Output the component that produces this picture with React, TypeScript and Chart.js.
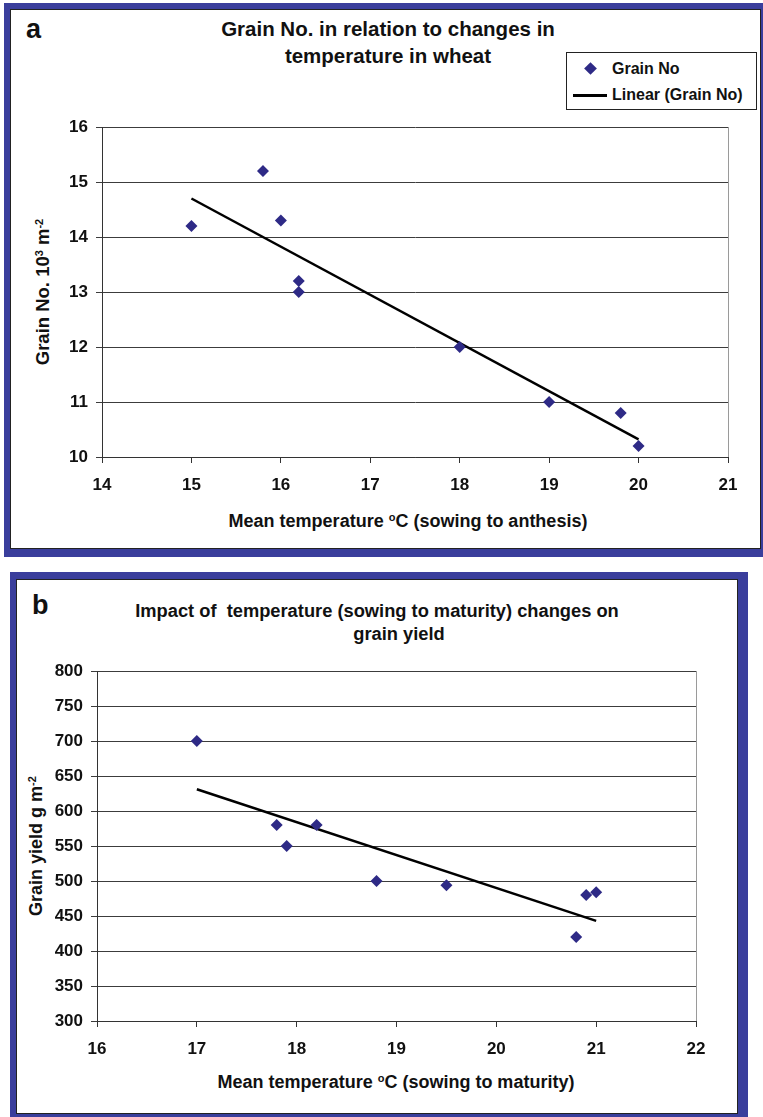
import React, { useEffect, useRef } from "react";
import { Chart, registerables } from "chart.js";

Chart.register(...registerables);

// ---------- Panel a data ----------
const tempAnthesis = [15, 15.8, 16, 16.2, 16.2, 18, 19, 19.8, 20];
const grainNo = [14.2, 15.2, 14.3, 13.2, 13.0, 12, 11, 10.8, 10.2];
const trendAX = [15, 20];
const trendAY = [14.7, 10.32];
const xRangeA = [14, 21];
const yRangeA = [10, 16];

// ---------- Panel b data ----------
const tempMaturity = [17, 17.8, 17.9, 18.2, 18.8, 19.5, 20.8, 20.9, 21];
const grainYield = [700, 580, 550, 580, 500, 494, 420, 480, 484];
const trendBX = [17, 21];
const trendBY = [631, 443];
const xRangeB = [16, 22];
const yRangeB = [300, 800];

const FONT = '"Liberation Sans", Arial, Helvetica, sans-serif';
const BLUE = "#3a3e9c";
const MARKER = "#2e2a86";

const plotFrame = {
  id: "plotFrame",
  afterDraw(chart: any) {
    const { ctx, chartArea } = chart;
    ctx.save();
    ctx.strokeStyle = "#9a9a9a";
    ctx.lineWidth = 1;
    const x = Math.round(chartArea.right) + 0.5;
    ctx.beginPath();
    ctx.moveTo(x, chartArea.top);
    ctx.lineTo(x, chartArea.bottom);
    ctx.stroke();
    ctx.restore();
  },
};

type Cfg = {
  xs: number[];
  ys: number[];
  tx: number[];
  ty: number[];
  xr: number[];
  yr: number[];
  xStep: number;
  yStep: number;
  padTop: number;
  padRight: number;
  yAxisWidth: number;
  xAxisHeight: number;
};

function makeConfig(c: Cfg): any {
  const tickFont = { family: FONT, size: 17, weight: "bold" as const };
  return {
    type: "scatter",
    data: {
      datasets: [
        {
          label: "Grain No",
          data: c.xs.map((x, i) => ({ x, y: c.ys[i] })),
          pointStyle: "rectRot",
          pointRadius: 6,
          pointHoverRadius: 6,
          backgroundColor: MARKER,
          borderColor: MARKER,
          borderWidth: 0,
          showLine: false,
        },
        {
          label: "Linear (Grain No)",
          data: c.tx.map((x, i) => ({ x, y: c.ty[i] })),
          showLine: true,
          borderColor: "#000",
          borderWidth: 2.5,
          pointRadius: 0,
          fill: false,
        },
      ],
    },
    options: {
      animation: false,
      responsive: false,
      maintainAspectRatio: false,
      layout: { padding: { top: c.padTop, right: c.padRight, bottom: 0, left: 0 } },
      plugins: { legend: { display: false }, tooltip: { enabled: false }, title: { display: false } },
      scales: {
        x: {
          type: "linear",
          min: c.xr[0],
          max: c.xr[1],
          ticks: { stepSize: c.xStep, color: "#111", font: tickFont, padding: 12, maxRotation: 0 },
          grid: { drawOnChartArea: false, drawTicks: true, tickLength: 6, color: "#333" },
          border: { color: "#333", width: 1 },
          afterFit: (s: any) => {
            s.height = c.xAxisHeight;
          },
        },
        y: {
          type: "linear",
          min: c.yr[0],
          max: c.yr[1],
          ticks: { stepSize: c.yStep, color: "#111", font: tickFont, padding: 8 },
          grid: { color: "#3c3c3c", tickLength: 6, lineWidth: 1 },
          border: { color: "#333", width: 1 },
          afterFit: (s: any) => {
            s.width = c.yAxisWidth;
          },
        },
      },
    },
    plugins: [plotFrame],
  };
}

function ChartCanvas(props: { left: number; top: number; width: number; height: number; cfg: Cfg }) {
  const ref = useRef<HTMLCanvasElement>(null);
  useEffect(() => {
    const chart = new Chart(ref.current as HTMLCanvasElement, makeConfig(props.cfg));
    return () => chart.destroy();
  }, []);
  return (
    <canvas
      ref={ref}
      width={props.width}
      height={props.height}
      style={{ position: "absolute", left: props.left, top: props.top, width: props.width, height: props.height }}
    />
  );
}

const abs = (l: number, t: number, w: number, h: number, extra: any = {}) => ({
  position: "absolute" as const,
  left: l,
  top: t,
  width: w,
  height: h,
  ...extra,
});

const textStyle = (size: number): any => ({
  fontFamily: FONT,
  fontWeight: "bold",
  fontSize: size,
  color: "#111",
  whiteSpace: "nowrap",
  lineHeight: 1,
});

const sup = { fontSize: 11, verticalAlign: 6 };

export default function App() {
  return (
    <div style={abs(0, 0, 763, 1117, { background: "#fff", overflow: "hidden" })}>
      {/* Panel a frame */}
      <div style={abs(4, 3, 759, 554, { background: BLUE })} />
      <div style={abs(10, 9, 751, 540, { background: "#fff", border: "1px solid #222", boxSizing: "border-box" })} />
      {/* Panel b frame */}
      <div style={abs(10, 572, 738, 545, { background: BLUE })} />
      <div style={abs(16, 579, 722, 535, { background: "#fff", border: "1px solid #222", boxSizing: "border-box" })} />

      {/* Panel a */}
      <div style={{ ...abs(26, 16, 30, 30), ...textStyle(27) }}>a</div>
      <div style={{ ...abs(188, 19, 400, 22), ...textStyle(20.5), textAlign: "center" }}>
        Grain No. in relation to changes in
      </div>
      <div style={{ ...abs(188, 46, 400, 22), ...textStyle(20.5), textAlign: "center" }}>
        temperature in wheat
      </div>
      <div style={abs(566, 52, 191, 58, { background: "#fff", border: "1px solid #222", boxSizing: "border-box" })}>
        <div style={abs(19, 11, 9, 9, { background: MARKER, transform: "rotate(45deg)" })} />
        <div style={{ ...abs(45, 8, 140, 18), ...textStyle(16) }}>Grain No</div>
        <div style={abs(6, 41, 34, 3, { background: "#000" })} />
        <div style={{ ...abs(45, 34, 140, 18), ...textStyle(16) }}>Linear (Grain No)</div>
      </div>
      <div
        style={{
          ...abs(45 - 110, 292 - 11, 220, 22),
          ...textStyle(18.5),
          textAlign: "center",
          transform: "rotate(-90deg)",
        }}
      >
        Grain No. 10<sup style={sup}>3</sup> m<sup style={sup}>-2</sup>
      </div>
      <div style={{ ...abs(208, 512, 400, 22), ...textStyle(18), textAlign: "center" }}>
        Mean temperature <sup style={sup}>o</sup>C (sowing to anthesis)
      </div>
      <ChartCanvas
        left={11}
        top={10}
        width={750}
        height={538}
        cfg={{
          xs: tempAnthesis,
          ys: grainNo,
          tx: trendAX,
          ty: trendAY,
          xr: xRangeA,
          yr: yRangeA,
          xStep: 1,
          yStep: 1,
          padTop: 117,
          padRight: 33,
          yAxisWidth: 91,
          xAxisHeight: 91,
        }}
      />

      {/* Panel b */}
      <div style={{ ...abs(32, 592, 30, 30), ...textStyle(27) }}>b</div>
      <div style={{ ...abs(127, 602, 500, 22), ...textStyle(18.3), textAlign: "center" }}>
        Impact of&nbsp; temperature (sowing to maturity) changes on
      </div>
      <div style={{ ...abs(149, 625, 500, 22), ...textStyle(18.3), textAlign: "center" }}>grain yield</div>
      <div
        style={{
          ...abs(38 - 110, 846 - 11, 220, 22),
          ...textStyle(18),
          textAlign: "center",
          transform: "rotate(-90deg)",
        }}
      >
        Grain yield g m<sup style={sup}>-2</sup>
      </div>
      <div style={{ ...abs(196, 1073, 400, 22), ...textStyle(18), textAlign: "center" }}>
        Mean temperature <sup style={sup}>o</sup>C (sowing to maturity)
      </div>
      <ChartCanvas
        left={17}
        top={580}
        width={720}
        height={533}
        cfg={{
          xs: tempMaturity,
          ys: grainYield,
          tx: trendBX,
          ty: trendBY,
          xr: xRangeB,
          yr: yRangeB,
          xStep: 1,
          yStep: 50,
          padTop: 91,
          padRight: 41,
          yAxisWidth: 80,
          xAxisHeight: 92,
        }}
      />
    </div>
  );
}
